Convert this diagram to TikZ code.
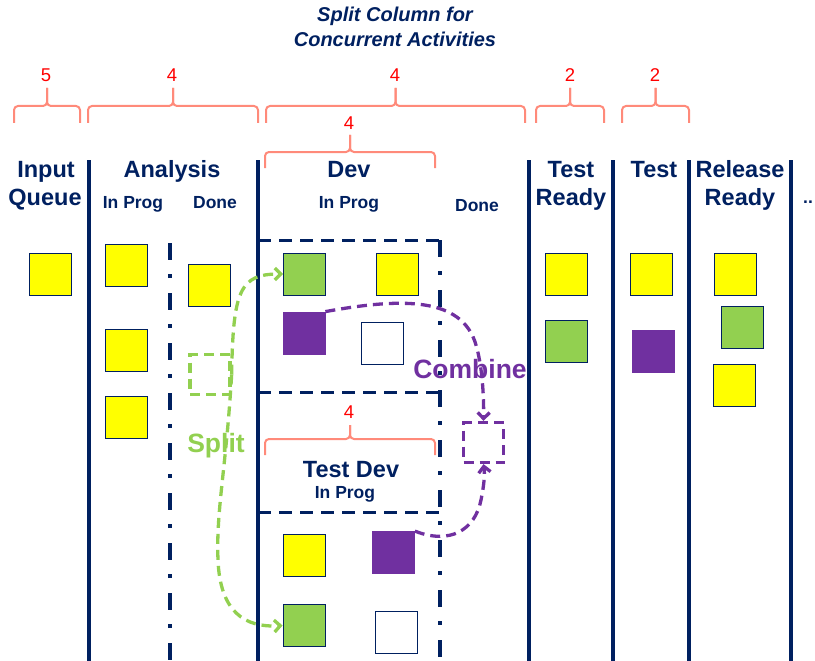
\documentclass[tikz,border=0pt]{standalone}
\usepackage{fontspec}
\setmainfont{Liberation Sans}
\usetikzlibrary{arrows.meta}
\definecolor{navy}{HTML}{002060}
\definecolor{cyel}{HTML}{FFFF00}
\definecolor{cgrn}{HTML}{92D050}
\definecolor{cpur}{HTML}{7030A0}
\definecolor{bracecol}{HTML}{FF8A7A}
\newcommand\wipbrace[5]{%
  \draw[wbrace] (#1,#4) -- (#1,#3) -- ({(#1+#2)/2},#3) -- ({(#1+#2)/2},#5);
  \draw[wbrace] ({(#1+#2)/2},#5) -- ({(#1+#2)/2},#3) -- (#2,#3) -- (#2,#4);}
\begin{document}
\begin{tikzpicture}[x=1pt,y=-1pt,
  wbrace/.style={draw=bracecol,line width=2pt,rounded corners=4pt},
  colline/.style={draw=navy,line width=3.6pt},
  colsplit/.style={draw=navy,line width=3.6pt,dash pattern=on 17pt off 14pt on 4pt off 15pt},
  devdash/.style={draw=navy,line width=3pt,dash pattern=on 13pt off 8pt},
  card/.style={draw=navy,line width=0.8pt,minimum size=42pt,inner sep=0pt},
  hdr/.style={text=navy,font=\fontsize{23.5}{26}\selectfont\bfseries,anchor=base,inner sep=0pt},
  sub/.style={text=navy,font=\fontsize{17.5}{20}\selectfont\bfseries,anchor=base,inner sep=0pt},
  num/.style={text=red,font=\fontsize{18.5}{20}\selectfont,anchor=base,inner sep=0pt},
  ttl/.style={text=navy,font=\fontsize{20}{22}\selectfont\bfseries\itshape,anchor=base,inner sep=0pt},
  grnarrow/.style={draw=cgrn,line width=3.3pt,dash pattern=on 10pt off 6pt,-{Straight Barb[length=6pt,width=12pt]}},
  purarrow/.style={draw=cpur,line width=3.3pt,dash pattern=on 10pt off 6pt,-{Straight Barb[length=6pt,width=12pt]}},
]
\useasboundingbox (0,0) rectangle (815,661);

% title
\node[ttl] (t1) at (395,22) {Split Column for};
\node[ttl] (t2) at (395,47) {Concurrent Activities};

% braces and WIP numbers
\wipbrace{14}{80}{106}{123}{88}
\wipbrace{88}{258}{106}{123}{88}
\wipbrace{266}{525}{106}{123}{88}
\wipbrace{536}{604}{106}{123}{88}
\wipbrace{622}{689}{106}{123}{88}
\wipbrace{265}{435}{152}{168}{135}
\wipbrace{265}{435}{439}{455}{425}
\node[num] (n1) at (46,82) {5};
\node[num] (n2) at (172,82) {4};
\node[num] (n3) at (395,82) {4};
\node[num] (n4) at (570,82) {2};
\node[num] (n5) at (655,82) {2};
\node[num] (n6) at (349,130) {4};
\node[num] (n7) at (349,418) {4};

% column lines
\draw[colline] (89,160) -- (89,661);
\draw[colline] (258,160) -- (258,661);
\draw[colline] (529,160) -- (529,661);
\draw[colline] (613,160) -- (613,661);
\draw[colline] (689,160) -- (689,661);
\draw[colline] (791,160) -- (791,661);
\draw[colsplit] (170,243) -- (170,661);
\draw[colsplit] (440,240) -- (440,661);
\draw[devdash] (258,240) -- (440,240);
\draw[devdash] (258,392) -- (440,392);
\draw[devdash] (258,512) -- (440,512);

% headers
\node[hdr] (h1) at (46,178) {Input};
\node[hdr] (h1b) at (45,205) {Queue};
\node[hdr] (h2) at (172,178) {Analysis};
\node[sub] (h2a) at (133,208) {In Prog};
\node[sub] (h2b) at (215,208) {Done};
\node[hdr] (h3) at (349,178) {Dev};
\node[sub] (h3a) at (349,208) {In Prog};
\node[sub] (h3b) at (477,211) {Done};
\node[hdr] (h4) at (571,178) {Test};
\node[hdr] (h4b) at (571,205) {Ready};
\node[hdr] (h5) at (654,178) {Test};
\node[hdr] (h6) at (740,178) {Release};
\node[hdr] (h6b) at (740,205) {Ready};
\node[sub] (h7) at (808,204) {..};
\node[hdr] (h8) at (351,477) {Test Dev};
\node[sub] (h8a) at (345,498) {In Prog};

% cards
\node[card,fill=cyel] (in1) at (50.5,274) {};
\node[card,fill=cyel] (an1) at (126.5,265.5) {};
\node[card,fill=cyel] (an2) at (126.5,350) {};
\node[card,fill=cyel] (an3) at (126.5,417.5) {};
\node[card,fill=cyel] (ad1) at (209.5,285.5) {};
\node[draw=cgrn,line width=3.3pt,dash pattern=on 10pt off 6pt,minimum size=40pt,inner sep=0pt] (split) at (210,374.5) {};
\node[card,fill=cgrn] (dv1) at (304.5,274) {};
\node[card,fill=cyel] (dv2) at (397.5,274) {};
\node[card,fill=cpur,draw=cpur] (dv3) at (304,333) {};
\node[card,fill=white] (dv4) at (382.5,343) {};
\node[draw=cpur,line width=3.3pt,dash pattern=on 10pt off 6pt,minimum size=40pt,inner sep=0pt] (comb) at (483.5,442.5) {};
\node[card,fill=cyel] (td1) at (304.5,555) {};
\node[card,fill=cpur,draw=cpur] (td2) at (393.5,552.5) {};
\node[card,fill=cgrn] (td3) at (304,625.5) {};
\node[card,fill=white] (td4) at (396.5,632) {};
\node[card,fill=cyel] (tr1) at (566.5,274) {};
\node[card,fill=cgrn] (tr2) at (566.5,341.5) {};
\node[card,fill=cyel] (ts1) at (651.5,274) {};
\node[card,fill=cpur,draw=cpur] (ts2) at (653,351) {};
\node[card,fill=cyel] (rr1) at (735.5,274) {};
\node[card,fill=cgrn] (rr2) at (742.5,327.5) {};
\node[card,fill=cyel] (rr3) at (734.5,385) {};

% labels
\node[text=cgrn,font=\fontsize{26.5}{28}\selectfont\bfseries,anchor=base,inner sep=0pt] (lsplit) at (216,452) {Split};
\node[text=cpur,font=\fontsize{26.5}{28}\selectfont\bfseries,anchor=base,inner sep=0pt] (lcomb) at (470,378) {Combine};

% arrows
\draw[grnarrow] (split.east) .. controls (233,290) and (240,274) .. (dv1.west);
\draw[grnarrow] (split.east) .. controls (226,470) and (216,510) .. (218,560) .. controls (220,612) and (245,628) .. (td3.west);
\draw[purarrow] (dv3.north east) .. controls (400,298) and (462,296) .. (476,345) .. controls (482,365) and (484,395) .. (comb.north);
\draw[purarrow] (td2.north east) .. controls (450,545) and (475,530) .. (481,500) .. controls (484,485) and (485,475) .. (comb.south);
\end{tikzpicture}
\end{document}
